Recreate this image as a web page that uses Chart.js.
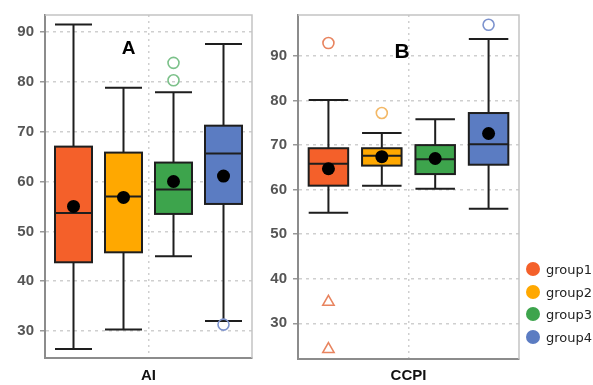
<!DOCTYPE html>
<html>
<head>
<meta charset="utf-8">
<script src="https://cdn.jsdelivr.net/npm/chart.js@4"></script>
<style>
  body { margin: 0; background: #fff; }
  #wrap { position: relative; width: 593px; height: 385px; overflow: hidden; }
  #wrap canvas { position: absolute; top: 0; }
  .leg { position: absolute; left: 526px; font: 13px "DejaVu Sans", sans-serif; color: #222; line-height: 16px; }
  .leg span { display: inline-block; width: 14px; height: 14px; border-radius: 50%; vertical-align: -2px; margin-right: 6px; }
</style>
</head>
<body>
<div id="wrap">
  <canvas id="chart-ai" width="262" height="385" style="left:0"></canvas>
  <canvas id="chart-ccpi" width="280" height="385" style="left:250px"></canvas>
  <div id="legend"></div>
</div>
<script>
// Box plot summaries per group
const groups = ['group1', 'group2', 'group3', 'group4'];
const groupColors = ['#F4602A', '#FFA800', '#3DA44C', '#5B7CC2'];
const outlierColors = ['#E8845F', '#F3B866', '#7CC18A', '#7D93CE'];
const yTicks = [30, 40, 50, 60, 70, 80, 90];

const aiMin = [26.4, 30.3, 45.0, 32.0];
const aiQ1 = [43.8, 45.8, 53.5, 55.5];
const aiMedian = [53.7, 57.0, 58.4, 65.6];
const aiQ3 = [67.0, 65.8, 63.8, 71.2];
const aiMax = [91.5, 78.8, 77.9, 87.6];
const aiMean = [55.0, 56.8, 60.0, 61.1];
const aiOutliers = [[], [], [80.3, 83.8], [31.3]];
const aiExtremes = [[], [], [], []];

const ccpiMin = [54.8, 60.9, 60.2, 55.7];
const ccpiQ1 = [60.9, 65.4, 63.5, 65.6];
const ccpiMedian = [65.8, 67.6, 66.8, 70.2];
const ccpiQ3 = [69.3, 69.3, 70.0, 77.2];
const ccpiMax = [80.1, 72.7, 75.8, 93.8];
const ccpiMean = [64.7, 67.4, 67.0, 72.6];
const ccpiOutliers = [[92.9], [77.2], [], [97.0]];
const ccpiExtremes = [[34.8, 24.2], [], [], []];

const boxWidth = 0.74;

// draws boxes + whiskers from the stats through the chart scales
function boxPlugin(stats, letter) {
  return {
    id: 'boxes',
    beforeDatasetsDraw(chart) {
      const { ctx, scales: { x, y } } = chart;
      ctx.save();
      ctx.lineWidth = 2;
      ctx.strokeStyle = '#1e1e1e';
      stats.min.forEach((_, i) => {
        const l = x.getPixelForValue(i + 1 - boxWidth / 2);
        const r = x.getPixelForValue(i + 1 + boxWidth / 2);
        const c = x.getPixelForValue(i + 1);
        const yMin = y.getPixelForValue(stats.min[i]);
        const yQ1 = y.getPixelForValue(stats.q1[i]);
        const yMed = y.getPixelForValue(stats.median[i]);
        const yQ3 = y.getPixelForValue(stats.q3[i]);
        const yMax = y.getPixelForValue(stats.max[i]);
        ctx.beginPath();
        ctx.moveTo(c, yQ3); ctx.lineTo(c, yMax);
        ctx.moveTo(l, yMax); ctx.lineTo(r, yMax);
        ctx.moveTo(c, yQ1); ctx.lineTo(c, yMin);
        ctx.moveTo(l, yMin); ctx.lineTo(r, yMin);
        ctx.stroke();
        ctx.fillStyle = groupColors[i];
        ctx.fillRect(l, yQ3, r - l, yQ1 - yQ3);
        ctx.strokeRect(l, yQ3, r - l, yQ1 - yQ3);
        ctx.beginPath();
        ctx.moveTo(l, yMed); ctx.lineTo(r, yMed);
        ctx.stroke();
      });
      ctx.restore();
    },
    afterDraw(chart) {
      const { ctx, chartArea: a, scales: { x, y } } = chart;
      ctx.save();
      // light frame on top and right
      ctx.strokeStyle = '#c4c4c4';
      ctx.lineWidth = 1.5;
      ctx.beginPath();
      ctx.moveTo(a.left, a.top); ctx.lineTo(a.right, a.top); ctx.lineTo(a.right, a.bottom);
      ctx.stroke();
      ctx.fillStyle = '#000';
      ctx.font = letter.font;
      ctx.textAlign = 'center';
      ctx.textBaseline = 'middle';
      ctx.fillText(letter.text, x.getPixelForValue(letter.x), y.getPixelForValue(letter.y));
      ctx.restore();
    }
  };
}

function pointsFrom(lists) {
  const pts = [];
  lists.forEach((vals, i) => vals.forEach(v => pts.push({ x: i + 1, y: v, g: i })));
  return pts;
}

function makeChart(id, cfg) {
  const outliers = pointsFrom(cfg.outliers);
  const extremes = pointsFrom(cfg.extremes);
  return new Chart(document.getElementById(id), {
    type: 'scatter',
    data: {
      datasets: [
        { data: outliers, pointStyle: 'circle', pointRadius: 5.5, borderWidth: 1.6,
          backgroundColor: 'rgba(0,0,0,0)', pointBorderColor: outliers.map(p => outlierColors[p.g]), clip: false },
        { data: extremes, pointStyle: 'triangle', pointRadius: 6.5, borderWidth: 1.6,
          backgroundColor: 'rgba(0,0,0,0)', pointBorderColor: extremes.map(p => outlierColors[p.g]), clip: false },
        { data: cfg.mean.map((v, i) => ({ x: i + 1, y: v })), pointRadius: 6.5,
          backgroundColor: '#000', borderColor: '#000', borderWidth: 0 }
      ]
    },
    options: {
      responsive: false,
      animation: false,
      events: [],
      layout: { padding: { top: 14, right: cfg.padRight, left: 0, bottom: 0 } },
      plugins: { legend: { display: false }, tooltip: { enabled: false } },
      scales: {
        x: {
          type: 'linear', min: 0.43, max: 4.57,
          afterBuildTicks: s => { s.ticks = [{ value: 2.5 }]; },
          afterFit: s => { s.height = cfg.xHeight; },
          ticks: { display: false },
          grid: { color: '#cfcfcf', lineWidth: 1.5, drawTicks: false },
          border: { color: '#8c8c8c', width: 2, dash: [2, 4] },
          title: { display: true, text: cfg.title, color: '#111',
            font: { family: 'Liberation Sans, Arial', size: 15, weight: 'bold' }, padding: { top: 10, bottom: 0 } }
        },
        y: {
          min: cfg.yMin, max: cfg.yMax,
          afterBuildTicks: s => { s.ticks = yTicks.map(v => ({ value: v })); },
          afterFit: s => { s.width = cfg.yWidth; },
          ticks: { color: '#555', padding: 6, font: { family: 'Liberation Sans, Arial', size: 15, weight: 'bold' } },
          grid: { color: '#cfcfcf', lineWidth: 1.5, tickLength: 5, tickColor: '#999', tickBorderDash: [] },
          border: { color: '#8c8c8c', width: 2, dash: [3, 4] }
        }
      }
    },
    plugins: [boxPlugin(
      { min: cfg.min, q1: cfg.q1, median: cfg.median, q3: cfg.q3, max: cfg.max },
      cfg.letter)]
  });
}

makeChart('chart-ai', {
  title: 'AI', min: aiMin, q1: aiQ1, median: aiMedian, q3: aiQ3, max: aiMax, mean: aiMean,
  outliers: aiOutliers, extremes: aiExtremes, yMin: 24.6, yMax: 93.4,
  yWidth: 45, xHeight: 27, padRight: 10,
  letter: { text: 'A', x: 2.1, y: 86.6, font: 'bold 19px "Liberation Sans", Arial' }
});

makeChart('chart-ccpi', {
  title: 'CCPI', min: ccpiMin, q1: ccpiQ1, median: ccpiMedian, q3: ccpiQ3, max: ccpiMax, mean: ccpiMean,
  outliers: ccpiOutliers, extremes: ccpiExtremes, yMin: 22.0, yMax: 99.2,
  yWidth: 48, xHeight: 26, padRight: 11,
  letter: { text: 'B', x: 2.38, y: 90.9, font: 'bold 21px "Liberation Sans", Arial' }
});

// legend
const legend = document.getElementById('legend');
const legendTops = [262, 285, 307, 330];
groups.forEach((g, i) => {
  const d = document.createElement('div');
  d.className = 'leg';
  d.style.top = legendTops[i] + 'px';
  d.innerHTML = '<span style="background:' + groupColors[i] + '"></span>' + g;
  legend.appendChild(d);
});
</script>
</body>
</html>
